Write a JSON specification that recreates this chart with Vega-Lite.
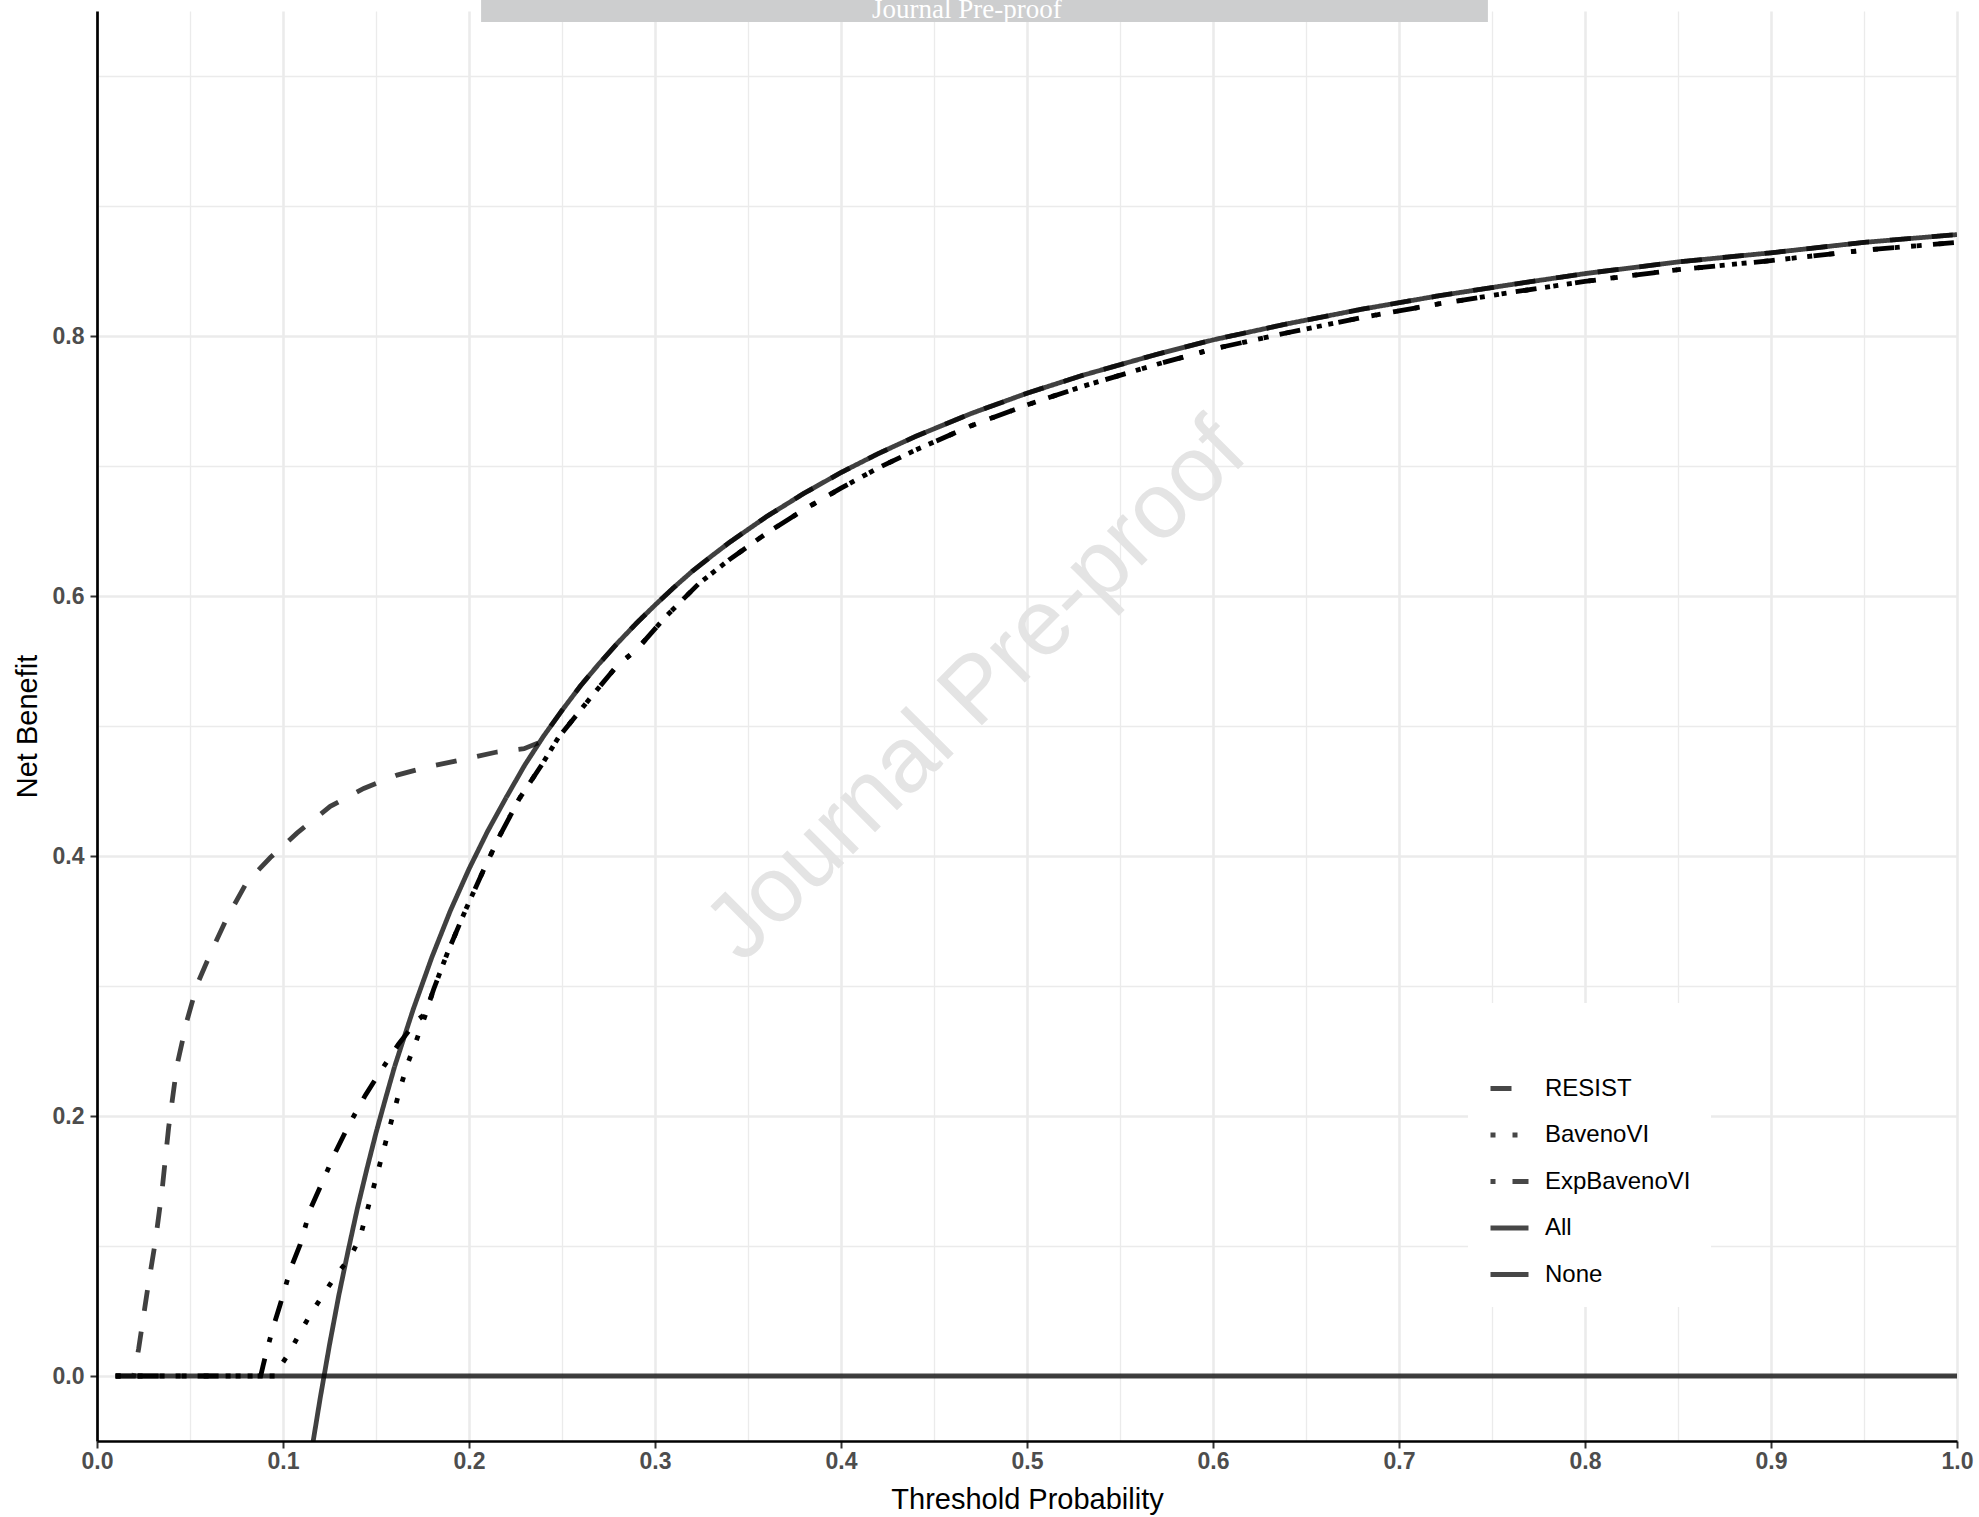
{
  "$schema": "https://vega.github.io/schema/vega-lite/v6.json",
  "width": 1860,
  "height": 1430,
  "autosize": {"type": "none"},
  "padding": {"left": 97, "top": 11, "right": 22, "bottom": 76},
  "background": "white",
  "config": {"view": {"stroke": null}, "font": "Liberation Sans"},
  "datasets": {
    "curves": [
      {"series": "RESIST", "x": 0.01, "y": 0},
      {"series": "RESIST", "x": 0.0197, "y": 0},
      {"series": "RESIST", "x": 0.0224, "y": 0.021},
      {"series": "RESIST", "x": 0.0269, "y": 0.064},
      {"series": "RESIST", "x": 0.0314, "y": 0.1036},
      {"series": "RESIST", "x": 0.035, "y": 0.143},
      {"series": "RESIST", "x": 0.0385, "y": 0.191},
      {"series": "RESIST", "x": 0.043, "y": 0.239},
      {"series": "RESIST", "x": 0.0484, "y": 0.2735},
      {"series": "RESIST", "x": 0.0538, "y": 0.301},
      {"series": "RESIST", "x": 0.061, "y": 0.325},
      {"series": "RESIST", "x": 0.0699, "y": 0.3524},
      {"series": "RESIST", "x": 0.0806, "y": 0.38},
      {"series": "RESIST", "x": 0.0932, "y": 0.3988},
      {"series": "RESIST", "x": 0.1075, "y": 0.4176},
      {"series": "RESIST", "x": 0.1254, "y": 0.4382},
      {"series": "RESIST", "x": 0.1434, "y": 0.452},
      {"series": "RESIST", "x": 0.1613, "y": 0.4622},
      {"series": "RESIST", "x": 0.1792, "y": 0.469},
      {"series": "RESIST", "x": 0.197, "y": 0.4743},
      {"series": "RESIST", "x": 0.215, "y": 0.48},
      {"series": "RESIST", "x": 0.2296, "y": 0.4825},
      {"series": "RESIST", "x": 0.238, "y": 0.4875},
      {"series": "RESIST", "x": 0.24, "y": 0.492},
      {"series": "RESIST", "x": 0.25, "y": 0.512},
      {"series": "RESIST", "x": 0.26, "y": 0.531},
      {"series": "RESIST", "x": 0.27, "y": 0.548},
      {"series": "RESIST", "x": 0.28, "y": 0.564},
      {"series": "RESIST", "x": 0.29, "y": 0.579},
      {"series": "RESIST", "x": 0.3, "y": 0.593},
      {"series": "RESIST", "x": 0.31, "y": 0.6064},
      {"series": "RESIST", "x": 0.32, "y": 0.619},
      {"series": "RESIST", "x": 0.33, "y": 0.6303},
      {"series": "RESIST", "x": 0.34, "y": 0.6412},
      {"series": "RESIST", "x": 0.36, "y": 0.6611},
      {"series": "RESIST", "x": 0.38, "y": 0.6789},
      {"series": "RESIST", "x": 0.4, "y": 0.695},
      {"series": "RESIST", "x": 0.42, "y": 0.7095},
      {"series": "RESIST", "x": 0.44, "y": 0.7227},
      {"series": "RESIST", "x": 0.47, "y": 0.7404},
      {"series": "RESIST", "x": 0.5, "y": 0.756},
      {"series": "RESIST", "x": 0.53, "y": 0.7698},
      {"series": "RESIST", "x": 0.57, "y": 0.786},
      {"series": "RESIST", "x": 0.6, "y": 0.797},
      {"series": "RESIST", "x": 0.64, "y": 0.8094},
      {"series": "RESIST", "x": 0.68, "y": 0.8206},
      {"series": "RESIST", "x": 0.72, "y": 0.8306},
      {"series": "RESIST", "x": 0.76, "y": 0.8395},
      {"series": "RESIST", "x": 0.8, "y": 0.848},
      {"series": "RESIST", "x": 0.85, "y": 0.857},
      {"series": "RESIST", "x": 0.9, "y": 0.864},
      {"series": "RESIST", "x": 0.95, "y": 0.872},
      {"series": "RESIST", "x": 1.0, "y": 0.878},

      {"series": "BavenoVI", "x": 0.01, "y": 0},
      {"series": "BavenoVI", "x": 0.096, "y": 0},
      {"series": "BavenoVI", "x": 0.0968, "y": 0.004},
      {"series": "BavenoVI", "x": 0.1035, "y": 0.018},
      {"series": "BavenoVI", "x": 0.109, "y": 0.033},
      {"series": "BavenoVI", "x": 0.115, "y": 0.048},
      {"series": "BavenoVI", "x": 0.1218, "y": 0.063},
      {"series": "BavenoVI", "x": 0.1285, "y": 0.0775},
      {"series": "BavenoVI", "x": 0.136, "y": 0.091},
      {"series": "BavenoVI", "x": 0.1414, "y": 0.1065},
      {"series": "BavenoVI", "x": 0.1445, "y": 0.123},
      {"series": "BavenoVI", "x": 0.1478, "y": 0.1405},
      {"series": "BavenoVI", "x": 0.151, "y": 0.1572},
      {"series": "BavenoVI", "x": 0.154, "y": 0.1735},
      {"series": "BavenoVI", "x": 0.1572, "y": 0.1905},
      {"series": "BavenoVI", "x": 0.1605, "y": 0.208},
      {"series": "BavenoVI", "x": 0.1638, "y": 0.2252},
      {"series": "BavenoVI", "x": 0.1674, "y": 0.2418},
      {"series": "BavenoVI", "x": 0.1717, "y": 0.258},
      {"series": "BavenoVI", "x": 0.1765, "y": 0.2775},
      {"series": "BavenoVI", "x": 0.181, "y": 0.2975},
      {"series": "BavenoVI", "x": 0.188, "y": 0.324},
      {"series": "BavenoVI", "x": 0.198, "y": 0.358},
      {"series": "BavenoVI", "x": 0.2068, "y": 0.386},
      {"series": "BavenoVI", "x": 0.2163, "y": 0.415},
      {"series": "BavenoVI", "x": 0.227, "y": 0.444},
      {"series": "BavenoVI", "x": 0.2395, "y": 0.471},
      {"series": "BavenoVI", "x": 0.248, "y": 0.491},
      {"series": "BavenoVI", "x": 0.257, "y": 0.507},
      {"series": "BavenoVI", "x": 0.266, "y": 0.523},
      {"series": "BavenoVI", "x": 0.28, "y": 0.547},
      {"series": "BavenoVI", "x": 0.29, "y": 0.5585},
      {"series": "BavenoVI", "x": 0.3057, "y": 0.584},
      {"series": "BavenoVI", "x": 0.3236, "y": 0.6096},
      {"series": "BavenoVI", "x": 0.34, "y": 0.628},
      {"series": "BavenoVI", "x": 0.36, "y": 0.6483},
      {"series": "BavenoVI", "x": 0.38, "y": 0.6664},
      {"series": "BavenoVI", "x": 0.4, "y": 0.683},
      {"series": "BavenoVI", "x": 0.42, "y": 0.6985},
      {"series": "BavenoVI", "x": 0.44, "y": 0.7122},
      {"series": "BavenoVI", "x": 0.47, "y": 0.731},
      {"series": "BavenoVI", "x": 0.5, "y": 0.747},
      {"series": "BavenoVI", "x": 0.53, "y": 0.7613},
      {"series": "BavenoVI", "x": 0.57, "y": 0.7783},
      {"series": "BavenoVI", "x": 0.6, "y": 0.79},
      {"series": "BavenoVI", "x": 0.64, "y": 0.8025},
      {"series": "BavenoVI", "x": 0.68, "y": 0.8142},
      {"series": "BavenoVI", "x": 0.72, "y": 0.8244},
      {"series": "BavenoVI", "x": 0.76, "y": 0.8335},
      {"series": "BavenoVI", "x": 0.8, "y": 0.842},
      {"series": "BavenoVI", "x": 0.85, "y": 0.851},
      {"series": "BavenoVI", "x": 0.9, "y": 0.858},
      {"series": "BavenoVI", "x": 0.95, "y": 0.866},
      {"series": "BavenoVI", "x": 1.0, "y": 0.872},

      {"series": "ExpBavenoVI", "x": 0.01, "y": 0},
      {"series": "ExpBavenoVI", "x": 0.088, "y": 0},
      {"series": "ExpBavenoVI", "x": 0.0893, "y": 0.008},
      {"series": "ExpBavenoVI", "x": 0.091, "y": 0.018},
      {"series": "ExpBavenoVI", "x": 0.0946, "y": 0.037},
      {"series": "ExpBavenoVI", "x": 0.0985, "y": 0.055},
      {"series": "ExpBavenoVI", "x": 0.1042, "y": 0.083},
      {"series": "ExpBavenoVI", "x": 0.1092, "y": 0.101},
      {"series": "ExpBavenoVI", "x": 0.1148, "y": 0.1288},
      {"series": "ExpBavenoVI", "x": 0.1205, "y": 0.147},
      {"series": "ExpBavenoVI", "x": 0.1283, "y": 0.1725},
      {"series": "ExpBavenoVI", "x": 0.135, "y": 0.192},
      {"series": "ExpBavenoVI", "x": 0.1443, "y": 0.216},
      {"series": "ExpBavenoVI", "x": 0.1525, "y": 0.2345},
      {"series": "ExpBavenoVI", "x": 0.162, "y": 0.255},
      {"series": "ExpBavenoVI", "x": 0.172, "y": 0.2735},
      {"series": "ExpBavenoVI", "x": 0.1765, "y": 0.2785},
      {"series": "ExpBavenoVI", "x": 0.181, "y": 0.2975},
      {"series": "ExpBavenoVI", "x": 0.188, "y": 0.324},
      {"series": "ExpBavenoVI", "x": 0.198, "y": 0.358},
      {"series": "ExpBavenoVI", "x": 0.2068, "y": 0.386},
      {"series": "ExpBavenoVI", "x": 0.2163, "y": 0.415},
      {"series": "ExpBavenoVI", "x": 0.227, "y": 0.444},
      {"series": "ExpBavenoVI", "x": 0.2395, "y": 0.471},
      {"series": "ExpBavenoVI", "x": 0.248, "y": 0.491},
      {"series": "ExpBavenoVI", "x": 0.257, "y": 0.507},
      {"series": "ExpBavenoVI", "x": 0.266, "y": 0.523},
      {"series": "ExpBavenoVI", "x": 0.28, "y": 0.547},
      {"series": "ExpBavenoVI", "x": 0.29, "y": 0.5585},
      {"series": "ExpBavenoVI", "x": 0.3057, "y": 0.584},
      {"series": "ExpBavenoVI", "x": 0.3236, "y": 0.6096},
      {"series": "ExpBavenoVI", "x": 0.34, "y": 0.628},
      {"series": "ExpBavenoVI", "x": 0.36, "y": 0.6483},
      {"series": "ExpBavenoVI", "x": 0.38, "y": 0.6664},
      {"series": "ExpBavenoVI", "x": 0.4, "y": 0.683},
      {"series": "ExpBavenoVI", "x": 0.42, "y": 0.6985},
      {"series": "ExpBavenoVI", "x": 0.44, "y": 0.7122},
      {"series": "ExpBavenoVI", "x": 0.47, "y": 0.731},
      {"series": "ExpBavenoVI", "x": 0.5, "y": 0.747},
      {"series": "ExpBavenoVI", "x": 0.53, "y": 0.7613},
      {"series": "ExpBavenoVI", "x": 0.57, "y": 0.7783},
      {"series": "ExpBavenoVI", "x": 0.6, "y": 0.79},
      {"series": "ExpBavenoVI", "x": 0.64, "y": 0.8025},
      {"series": "ExpBavenoVI", "x": 0.68, "y": 0.8142},
      {"series": "ExpBavenoVI", "x": 0.72, "y": 0.8244},
      {"series": "ExpBavenoVI", "x": 0.76, "y": 0.8335},
      {"series": "ExpBavenoVI", "x": 0.8, "y": 0.842},
      {"series": "ExpBavenoVI", "x": 0.85, "y": 0.851},
      {"series": "ExpBavenoVI", "x": 0.9, "y": 0.858},
      {"series": "ExpBavenoVI", "x": 0.95, "y": 0.866},
      {"series": "ExpBavenoVI", "x": 1.0, "y": 0.872},

      {"series": "All", "x": 0.11, "y": -0.109},
      {"series": "All", "x": 0.115, "y": -0.0609},
      {"series": "All", "x": 0.12, "y": -0.017},
      {"series": "All", "x": 0.125, "y": 0.024},
      {"series": "All", "x": 0.13, "y": 0.062},
      {"series": "All", "x": 0.135, "y": 0.0962},
      {"series": "All", "x": 0.14, "y": 0.129},
      {"series": "All", "x": 0.145, "y": 0.1587},
      {"series": "All", "x": 0.15, "y": 0.187},
      {"series": "All", "x": 0.155, "y": 0.2128},
      {"series": "All", "x": 0.16, "y": 0.238},
      {"series": "All", "x": 0.17, "y": 0.282},
      {"series": "All", "x": 0.18, "y": 0.322},
      {"series": "All", "x": 0.19, "y": 0.358},
      {"series": "All", "x": 0.2, "y": 0.39},
      {"series": "All", "x": 0.21, "y": 0.419},
      {"series": "All", "x": 0.22, "y": 0.445},
      {"series": "All", "x": 0.23, "y": 0.47},
      {"series": "All", "x": 0.24, "y": 0.492},
      {"series": "All", "x": 0.25, "y": 0.512},
      {"series": "All", "x": 0.26, "y": 0.531},
      {"series": "All", "x": 0.27, "y": 0.548},
      {"series": "All", "x": 0.28, "y": 0.564},
      {"series": "All", "x": 0.29, "y": 0.579},
      {"series": "All", "x": 0.3, "y": 0.593},
      {"series": "All", "x": 0.31, "y": 0.6064},
      {"series": "All", "x": 0.32, "y": 0.619},
      {"series": "All", "x": 0.33, "y": 0.6303},
      {"series": "All", "x": 0.34, "y": 0.6412},
      {"series": "All", "x": 0.36, "y": 0.6611},
      {"series": "All", "x": 0.38, "y": 0.6789},
      {"series": "All", "x": 0.4, "y": 0.695},
      {"series": "All", "x": 0.42, "y": 0.7095},
      {"series": "All", "x": 0.44, "y": 0.7227},
      {"series": "All", "x": 0.47, "y": 0.7404},
      {"series": "All", "x": 0.5, "y": 0.756},
      {"series": "All", "x": 0.53, "y": 0.7698},
      {"series": "All", "x": 0.57, "y": 0.786},
      {"series": "All", "x": 0.6, "y": 0.797},
      {"series": "All", "x": 0.64, "y": 0.8094},
      {"series": "All", "x": 0.68, "y": 0.8206},
      {"series": "All", "x": 0.72, "y": 0.8306},
      {"series": "All", "x": 0.76, "y": 0.8395},
      {"series": "All", "x": 0.8, "y": 0.848},
      {"series": "All", "x": 0.85, "y": 0.857},
      {"series": "All", "x": 0.9, "y": 0.864},
      {"series": "All", "x": 0.95, "y": 0.872},
      {"series": "All", "x": 1.0, "y": 0.878},

      {"series": "None", "x": 0.01, "y": 0},
      {"series": "None", "x": 1.0, "y": 0}
    ]
  },
  "layer": [
    {
      "data": {"values": [{"x": 0.473, "y": 0.527, "label": "Journal Pre-proof"}]},
      "mark": {"type": "text", "angle": 315, "fontSize": 93, "font": "Liberation Sans", "color": "#e4e4e4", "align": "center", "baseline": "middle"},
      "encoding": {
        "x": {"field": "x", "type": "quantitative", "scale": {"domain": [0, 1], "nice": false, "zero": false}},
        "y": {"field": "y", "type": "quantitative", "scale": {"domain": [-0.05, 1.05], "nice": false, "zero": false}},
        "text": {"field": "label"}
      }
    },
    {
      "data": {"values": [{"x": 0.2065, "x2": 0.7478, "y": 1.0415, "y2": 1.07}]},
      "mark": {"type": "rect", "color": "#cdcecf", "clip": false},
      "encoding": {
        "x": {"field": "x", "type": "quantitative", "scale": {"domain": [0, 1], "nice": false, "zero": false}},
        "x2": {"field": "x2"},
        "y": {"field": "y", "type": "quantitative", "scale": {"domain": [-0.05, 1.05], "nice": false, "zero": false}},
        "y2": {"field": "y2"}
      }
    },
    {
      "data": {"values": [{"x": 0.4677, "y": 1.0449, "label": "Journal Pre-proof"}]},
      "mark": {"type": "text", "fontSize": 27, "font": "Liberation Serif", "color": "white", "align": "center", "baseline": "alphabetic", "clip": false},
      "encoding": {
        "x": {"field": "x", "type": "quantitative", "scale": {"domain": [0, 1], "nice": false, "zero": false}},
        "y": {"field": "y", "type": "quantitative", "scale": {"domain": [-0.05, 1.05], "nice": false, "zero": false}},
        "text": {"field": "label"}
      }
    },
    {
      "data": {"name": "curves"},
      "mark": {"type": "line", "color": "black", "strokeWidth": 4.8, "strokeCap": "butt", "clip": true},
      "encoding": {
        "x": {
          "field": "x", "type": "quantitative",
          "scale": {"domain": [0, 1], "nice": false, "zero": false},
          "axis": {
            "title": "Threshold Probability",
            "values": [0, 0.05, 0.1, 0.15, 0.2, 0.25, 0.3, 0.35, 0.4, 0.45, 0.5, 0.55, 0.6, 0.65, 0.7, 0.75, 0.8, 0.85, 0.9, 0.95, 1],
            "labelExpr": "abs(datum.value*10 - round(datum.value*10)) < 0.001 ? format(datum.value, '.1f') : ''",
            "labelOverlap": false, "labelFlush": false,
            "labelFont": "Liberation Sans", "labelFontSize": 23, "labelFontWeight": "bold", "labelColor": "#4d4d4d", "labelPadding": 2,
            "titleFont": "Liberation Sans", "titleFontSize": 29, "titleFontWeight": "normal", "titleColor": "black", "titlePadding": 12,
            "domainColor": "black", "domainWidth": 2.7,
            "tickColor": "#333333", "tickWidth": 2, "tickSize": 7,
            "tickOpacity": {"condition": {"test": "abs(datum.value*10 - round(datum.value*10)) < 0.001", "value": 1}, "value": 0},
            "grid": true, "gridColor": "#ebebeb",
            "gridWidth": {"condition": {"test": "abs(datum.value*10 - round(datum.value*10)) < 0.001", "value": 2.6}, "value": 1.3}
          }
        },
        "y": {
          "field": "y", "type": "quantitative",
          "scale": {"domain": [-0.05, 1.05], "nice": false, "zero": false},
          "axis": {
            "title": "Net Benefit",
            "values": [0, 0.1, 0.2, 0.3, 0.4, 0.5, 0.6, 0.7, 0.8, 0.9, 1],
            "labelExpr": "abs(datum.value*5 - round(datum.value*5)) < 0.001 && datum.value < 0.9 ? format(datum.value, '.1f') : ''",
            "labelOverlap": false, "labelFlush": false,
            "labelFont": "Liberation Sans", "labelFontSize": 23, "labelFontWeight": "bold", "labelColor": "#4d4d4d", "labelPadding": 6,
            "titleFont": "Liberation Sans", "titleFontSize": 29, "titleFontWeight": "normal", "titleColor": "black", "titlePadding": 10,
            "domainColor": "black", "domainWidth": 2.7,
            "tickColor": "#333333", "tickWidth": 2, "tickSize": 7,
            "tickOpacity": {"condition": {"test": "abs(datum.value*5 - round(datum.value*5)) < 0.001 && datum.value < 0.9", "value": 1}, "value": 0},
            "grid": true, "gridColor": "#ebebeb",
            "gridWidth": {"condition": {"test": "abs(datum.value*5 - round(datum.value*5)) < 0.001 && datum.value < 0.9", "value": 2.6}, "value": 1.3}
          }
        },
        "strokeDash": {
          "field": "series", "type": "nominal",
          "scale": {
            "domain": ["RESIST", "BavenoVI", "ExpBavenoVI", "All", "None"],
            "range": [[21, 21], [5, 17], [5, 17, 21, 17], [1, 0], [1, 0]]
          },
          "legend": {
            "orient": "none", "legendX": 1371, "legendY": 992,
            "title": " ", "titleFontSize": 28, "titlePadding": 16,
            "fillColor": "white", "padding": 20,
            "symbolType": "stroke", "symbolSize": 1444, "symbolStrokeWidth": 5, "symbolStrokeColor": "#474747",
            "labelFont": "Liberation Sans", "labelFontSize": 24, "labelColor": "black", "labelOffset": 14,
            "rowPadding": 12.5
          }
        },
        "strokeOpacity": {
          "field": "series", "type": "nominal",
          "scale": {
            "type": "ordinal",
            "domain": ["RESIST", "BavenoVI", "ExpBavenoVI", "All", "None"],
            "range": [0.75, 1, 1, 0.75, 0.75]
          },
          "legend": null
        }
      }
    }
  ]
}
